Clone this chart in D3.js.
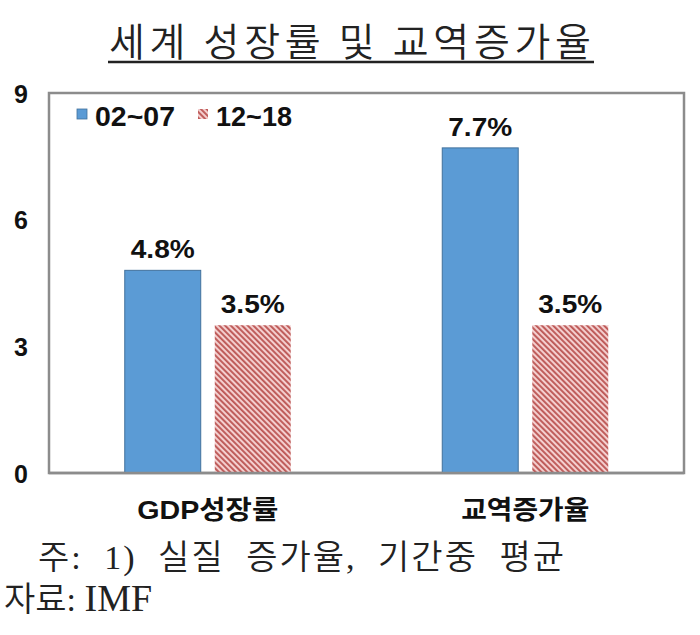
<!DOCTYPE html>
<html><head><meta charset="utf-8">
<script src="https://cdn.jsdelivr.net/npm/d3@7"></script>
<style>body{margin:0;background:#fff}svg{display:block}</style>
</head><body>
<svg id="c" width="700" height="635"></svg>
<script>
const title = "세계 성장률 및 교역증가율";
const categories = ["GDP성장률", "교역증가율"];
const seriesNames = ["02~07", "12~18"];
const values0207 = [4.8, 7.7];
const values1218 = [3.5, 3.5];
const yTicks = [0, 3, 6, 9];
const noteLines = ["주: 1) 실질 증가율, 기간중 평균", "자료: IMF"];

const svg = d3.select("#c");
const defs = svg.append("defs");
const pat = defs.append("pattern").attr("id","hatch").attr("patternUnits","userSpaceOnUse")
  .attr("width",4).attr("height",4).attr("patternTransform","rotate(-45)");
pat.append("rect").attr("width",4).attr("height",4).attr("fill","#f4cfcf");
pat.append("rect").attr("x",0).attr("y",0).attr("width",1.9).attr("height",4).attr("fill","#bd5856");

const L = 49, R = 684, T = 93, B = 473;
const x = d3.scaleBand().domain(categories).range([L, R]).padding(0);
const bw = x.bandwidth();
const xi = d3.scaleBand().domain(seriesNames).range([bw/2 - 83, bw/2 + 83]).paddingInner(0.156).paddingOuter(0);
const y = d3.scaleLinear().domain([0, 9]).range([B, T]);
const colors = {"02~07":"#5b9bd5", "12~18":"url(#hatch)"};
const strokes = {"02~07":"#41719c", "12~18":"none"};
const sansB = "'Liberation Sans',Arial,'Noto Sans CJK KR',sans-serif";

// title
svg.append("text").attr("x",350).attr("y",56).attr("text-anchor","middle")
  .attr("font-family","'Noto Sans CJK KR'").attr("font-size",39).attr("font-weight",350)
  .attr("fill","#222").attr("textLength",482).attr("lengthAdjust","spacing").text(title);
svg.append("line").attr("x1",108).attr("x2",594).attr("y1",62).attr("y2",62)
  .attr("stroke","#222").attr("stroke-width",2.5);

// plot box
svg.append("rect").attr("x",L).attr("y",T).attr("width",R-L).attr("height",B-T)
  .attr("fill","#fff").attr("stroke","#8c8c8c").attr("stroke-width",2.5);

// y axis labels
const yAxis = d3.axisLeft(y).tickValues(yTicks).tickSize(0).tickPadding(0);
const ga = svg.append("g").attr("transform",`translate(${L-28},0)`).call(yAxis);
ga.select(".domain").remove();
ga.selectAll("text").attr("font-family",sansB)
  .attr("font-size",25).attr("font-weight","bold").attr("fill","#111")
  .attr("text-anchor","middle").attr("x",0).attr("dy","0.36em");

// bars
const data = [];
categories.forEach((c,i)=>{
  data.push({cat:c, s:seriesNames[0], v:values0207[i]});
  data.push({cat:c, s:seriesNames[1], v:values1218[i]});
});
const g = svg.append("g");
g.selectAll("rect.bar").data(data).join("rect").attr("class","bar")
  .attr("x",d=>x(d.cat)+xi(d.s)).attr("width",xi.bandwidth())
  .attr("y",d=>y(d.v)).attr("height",d=>y(0)-y(d.v))
  .attr("fill",d=>colors[d.s]).attr("stroke",d=>strokes[d.s]).attr("stroke-width",1);
g.selectAll("text.val").data(data).join("text").attr("class","val")
  .attr("x",d=>x(d.cat)+xi(d.s)+xi.bandwidth()/2).attr("y",d=>y(d.v)-12)
  .attr("text-anchor","middle").attr("font-family",sansB)
  .attr("font-size",26).attr("font-weight","bold").attr("fill","#111")
  .attr("textLength",64).attr("lengthAdjust","spacingAndGlyphs")
  .text(d=>d.v.toFixed(1)+"%");
svg.append("line").attr("x1",L).attr("x2",R).attr("y1",B).attr("y2",B)
  .attr("stroke","#8c8c8c").attr("stroke-width",2.5);

// category labels
const catW = {"GDP성장률":141, "교역증가율":128};
const xAxis = d3.axisBottom(x).tickSize(0).tickPadding(0);
const gx = svg.append("g").attr("transform",`translate(0,${B})`).call(xAxis);
gx.select(".domain").remove();
gx.selectAll("text").attr("font-family",sansB)
  .attr("font-size",26).attr("font-weight","bold").attr("fill","#111")
  .attr("dy",0).attr("y",46)
  .attr("textLength",d=>catW[d]).attr("lengthAdjust","spacingAndGlyphs");

// legend
const leg = svg.append("g");
const legX = [77, 198];
const legW = [80, 76];
seriesNames.forEach((s,i)=>{
  leg.append("rect").attr("x",legX[i]).attr("y",109).attr("width",10).attr("height",10)
    .attr("fill",colors[s]).attr("stroke",strokes[s]).attr("stroke-width",0.8);
  leg.append("text").attr("x",legX[i]+18).attr("y",126)
    .attr("font-family",sansB).attr("font-size",27)
    .attr("font-weight","bold").attr("fill","#111")
    .attr("textLength",legW[i]).attr("lengthAdjust","spacingAndGlyphs").text(s);
});

// notes
const serif = "'Liberation Serif','Noto Sans CJK KR',serif";
svg.append("text").attr("x",38).attr("y",569)
  .attr("font-family",serif).attr("font-size",34).attr("font-weight",350)
  .attr("fill","#222").attr("word-spacing",11).attr("textLength",526).attr("lengthAdjust","spacing")
  .text(noteLines[0]);
const n2 = noteLines[1].split(" ");
const t2 = svg.append("text").attr("x",4).attr("y",611)
  .attr("font-family",serif).attr("font-size",34).attr("font-weight",350).attr("fill","#222");
t2.append("tspan").text(n2[0] + " ");
t2.append("tspan").attr("font-size",38).text(n2[1]);
</script>
</body></html>
